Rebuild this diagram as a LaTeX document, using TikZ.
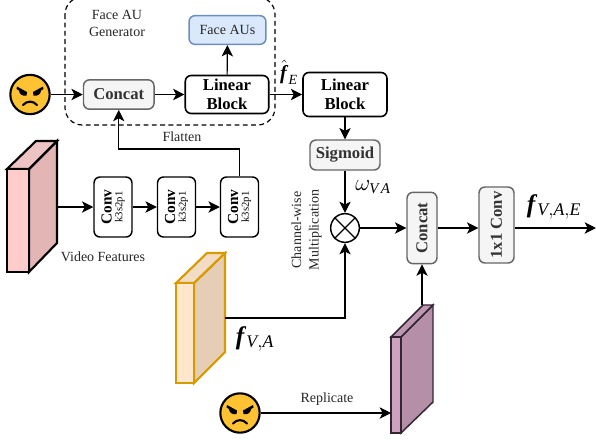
\documentclass[tikz,border=0pt]{standalone}
\usepackage{amsmath}
\usepackage{fontspec}
\setmainfont{Liberation Serif}
\usetikzlibrary{arrows.meta}
\tikzset{
  >={Stealth[length=8.5pt,width=8.5pt,inset=2.2pt]},
  link/.style={line width=0.85pt,->},
  plainbox/.style={draw,rounded corners=4.5pt,line width=1.1pt,align=center,inner sep=0pt},
  grayblock/.style={plainbox,draw={rgb,255:red,102;green,102;blue,102},fill={rgb,255:red,245;green,245;blue,245},text={rgb,255:red,51;green,51;blue,51},font=\bfseries\fontsize{12.5}{14}\selectfont},
  linearblock/.style={plainbox,line width=1.2pt,font=\bfseries\fontsize{12.5}{14.5}\selectfont},
  convblock/.style={plainbox,rotate=90,minimum width=45pt,minimum height=28.5pt,font=\bfseries\fontsize{11.5}{9}\selectfont},
  label/.style={inner sep=0pt,align=center,text={rgb,255:red,38;green,38;blue,38},font=\fontsize{10.5}{13}\selectfont},
  faceicon/.style={circle,draw,line width=1.6pt,fill={rgb,255:red,255;green,194;blue,51},minimum size=29.5pt,inner sep=0pt},
  pics/angryface/.style={code={
    \fill (-13,8) -- (-3,2.5) -- (-3.5,-1) .. controls (-7,-2) and (-11,0) .. (-11,4) -- (-13.5,5.5) -- cycle;
    \fill (13,8) -- (3,2.5) -- (3.5,-1) .. controls (7,-2) and (11,0) .. (11,4) -- (13.5,5.5) -- cycle;
    \draw [line width=1.6pt,line cap=round] (-7,-10.5) .. controls (-3,-6) and (3,-6) .. (7,-10.5);
  }}
}

\begin{document}
\begin{tikzpicture}[x=0.75pt,y=0.75pt,yscale=-1,xscale=1]
\useasboundingbox (0,0) rectangle (596,444);

%Dashed Generator Frame
\draw [line width=0.9pt,dash pattern={on 3.6pt off 2.6pt},rounded corners=13pt] (65,-3) rectangle (275,125);

%Video Cuboid
\draw [line width=1.6pt,line join=miter,fill={rgb,255:red,227;green,181;blue,181}] (29,169) -- (57,141) -- (57,243) -- (29,272) -- cycle;
\draw [line width=1.6pt,fill={rgb,255:red,238;green,195;blue,195}] (7,169) -- (36,141) -- (57,141) -- (29,169) -- cycle;
\draw [line width=1.6pt,fill={rgb,255:red,255;green,204;blue,204}] (7,169) rectangle (29,272);
\coordinate (video) at (57,207);

%Orange Cuboid
\draw [line width=1.6pt,color={rgb,255:red,215;green,155;blue,0},fill={rgb,255:red,230;green,205;blue,181}] (194,283) -- (225,253) -- (225,352) -- (194,383) -- cycle;
\draw [line width=1.6pt,color={rgb,255:red,215;green,155;blue,0},fill={rgb,255:red,243;green,220;blue,198}] (176,283) -- (207,253) -- (225,253) -- (194,283) -- cycle;
\draw [line width=1.6pt,color={rgb,255:red,215;green,155;blue,0},fill={rgb,255:red,255;green,230;blue,204}] (176,283) rectangle (194,383);
\coordinate (fusedfeat) at (225,318);

%Purple Cuboid
\draw [line width=1.1pt,color={rgb,255:red,51;green,38;blue,51},fill={rgb,255:red,181;green,143;blue,168}] (401,337) -- (433,305) -- (433,402) -- (401,433) -- cycle;
\draw [line width=1.1pt,color={rgb,255:red,51;green,38;blue,51},fill={rgb,255:red,190;green,150;blue,177}] (391,337) -- (423,305) -- (433,305) -- (401,337) -- cycle;
\draw [line width=1.1pt,color={rgb,255:red,51;green,38;blue,51},fill={rgb,255:red,205;green,162;blue,190}] (391,337) rectangle (401,433);
\coordinate (repfeat) at (422,305);
\coordinate (repin) at (391,413);

%Faces
\node (faceone) [faceicon] at (30,94.5) {};
\pic at (30,94.5) {angryface};
\node (facetwo) [faceicon] at (240,413) {};
\pic at (240,413) {angryface};

%Blocks
\node (concatone) [grayblock,minimum width=52.9pt,minimum height=22pt] at (118.75,94.5) {Concat};
\node (linearone) [linearblock,minimum width=62.6pt,minimum height=28.5pt] at (227,94.5) {Linear\\Block};
\node (faceaus) [plainbox,draw={rgb,255:red,108;green,142;blue,191},fill={rgb,255:red,218;green,232;blue,252},minimum width=57.7pt,minimum height=21.5pt,text={rgb,255:red,38;green,38;blue,38},font=\fontsize{10.5}{11}\selectfont] at (227.5,30) {Face AUs};
\node (lineartwo) [linearblock,minimum width=63pt,minimum height=33pt] at (345,94.5) {Linear\\Block};
\node (sigmoid) [grayblock,minimum width=52.5pt,minimum height=22.5pt] at (345,155) {Sigmoid};
\node (mult) [circle,draw,line width=1.1pt,minimum size=21.5pt,inner sep=0pt] at (345,228) {};
\draw [line width=0.9pt] (mult.north west) -- (mult.south east) (mult.north east) -- (mult.south west);
\node (concattwo) [grayblock,rotate=90,minimum width=53.5pt,minimum height=22.5pt] at (422,228) {Concat};
\node (convout) [grayblock,rotate=90,minimum width=57pt,minimum height=26.25pt] at (496.5,225) {1x1 Conv};

%Conv Blocks
\node (convone) [convblock] at (113,207) {Conv\\[-1pt]{\mdseries\fontsize{8}{8}\selectfont k3s2p1}};
\node (convtwo) [convblock] at (176.5,207) {Conv\\[-1pt]{\mdseries\fontsize{8}{8}\selectfont k3s2p1}};
\node (convthree) [convblock] at (239.5,207) {Conv\\[-1pt]{\mdseries\fontsize{8}{8}\selectfont k3s2p1}};

%Straight Lines
\coordinate (outend) at (596,228);
\coordinate (flatten) at (0,149);
\draw [link] (faceone) -- (concatone);
\draw [link] (concatone) -- (linearone);
\draw [link] (linearone) -- (faceaus);
\draw [link] (linearone) -- (lineartwo);
\draw [link] (lineartwo) -- (sigmoid);
\draw [link] (sigmoid) -- (mult);
\draw [link] (mult) -- (concattwo);
\draw [link] (concattwo.south) -- (concattwo.south -| convout.north);
\draw [link] (concattwo.south -| convout.south) -- (outend);
\draw [link] (video) -- (convone);
\draw [link] (convone) -- (convtwo);
\draw [link] (convtwo) -- (convthree);
\draw [link] (convthree.east) -- (convthree.east |- flatten) -- (concatone.south |- flatten) -- (concatone.south);
\draw [link] (fusedfeat) -| (mult.south);
\draw [link] (repfeat) -- (repfeat |- concattwo.west);
\draw [link] (facetwo) -- (repin);

% Text Node
\node (aulabel) [label] at (117,23.5) {Face AU\\Generator};
\node (flattenlabel) [label] at (182,137) {Flatten};
\node (videolabel) [label] at (103,256.5) {Video Features};
\node (replabel) [label] at (327,399) {Replicate};
\node (multlabel) [label,rotate=90] at (306.5,230) {Channel-wise\\Multiplication};
\node (fhatlabel) [inner sep=0pt,font=\fontsize{15}{17}\selectfont] at (289,72) {$\hat{\textbf{\textit{f}}}_{\mathit{E}}$};
\node (omegalabel) [inner sep=0pt,font=\fontsize{16}{18}\selectfont] at (373,187) {$\omega_{\mathit{V\,A}}$};
\node (outlabel) [inner sep=0pt,font=\fontsize{19}{21}\selectfont] at (554,207) {\textbf{\textit{f}}$_{\mathit{V,A,E}}$};
\node (fusedlabel) [inner sep=0pt,font=\fontsize{19}{21}\selectfont] at (255,339) {\textbf{\textit{f}}$_{\mathit{V,A}}$};

\end{tikzpicture}
\end{document}
